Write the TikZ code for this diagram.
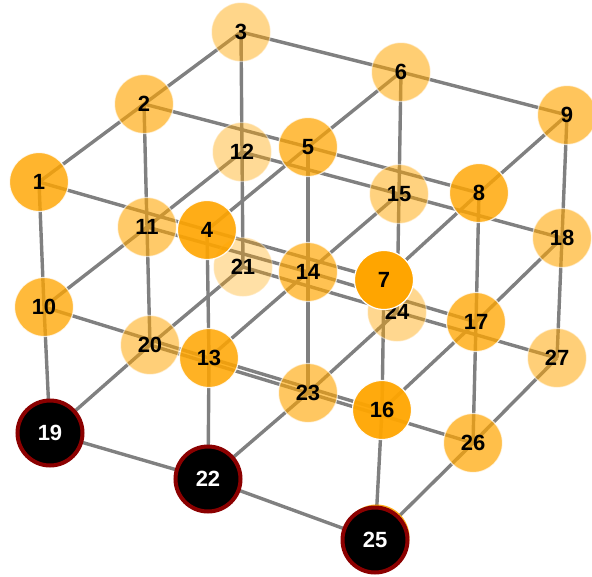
\documentclass[tikz,border=0pt]{standalone}
\usepackage{fontspec}
\setmainfont{Liberation Sans}
\pgfdeclarelayer{bg}
\pgfsetlayers{bg,main}
\definecolor{nodeorange}{HTML}{FFA500}
\definecolor{edgegray}{HTML}{808080}
\definecolor{ringred}{HTML}{8B0000}
\tikzset{
  ball/.style={circle, minimum size=59pt, inner sep=0pt, fill=nodeorange, draw=white, line width=1.2pt,
    fill opacity=#1, draw opacity=#1, text opacity=1, font=\fontsize{22}{22}\selectfont\bfseries},
  sink/.style={circle, minimum size=65pt, inner sep=0pt, fill=black, draw=ringred, line width=4pt,
    text=white, font=\fontsize{22}{22}\selectfont\bfseries},
  link/.style={draw=edgegray, line width=3.4pt}
}
\newcommand{\lbl}[1]{\raisebox{-3pt}{#1}}
\begin{document}
\begin{tikzpicture}[x=1pt,y=-1pt]
\useasboundingbox (0,0) rectangle (592,576);
% nodes, back to front
\node[ball=0.35] (n21) at (243,267) {\lbl{21}};
\node[ball=0.41] (n12) at (242,152) {\lbl{12}};
\node[ball=0.44] (n24) at (397,312) {\lbl{24}};
\node[ball=0.46] (n3)  at (241,32)  {\lbl{3}};
\node[ball=0.50] (n15) at (399,194) {\lbl{15}};
\node[ball=0.53] (n20) at (150,345) {\lbl{20}};
\node[ball=0.53] (n27) at (557,358) {\lbl{27}};
\node[ball=0.55] (n6)  at (401,72)  {\lbl{6}};
\node[ball=0.59] (n11) at (147,227) {\lbl{11}};
\node[ball=0.59] (n18) at (562,238) {\lbl{18}};
\node[ball=0.62] (n23) at (308,393) {\lbl{23}};
\node[ball=0.64] (n2)  at (144,104) {\lbl{2}};
\node[ball=0.64] (n9)  at (567,115) {\lbl{9}};
\node[ball=0.68] (n14) at (308,272) {\lbl{14}};
\node[sink]      (n19) at (50,433)  {\lbl{19}};
\node[ball=0.71] (n26) at (473,443) {\lbl{26}};
\node[ball=0.73] (n5)  at (308,147) {\lbl{5}};
\node[ball=0.77] (n10) at (44,307)  {\lbl{10}};
\node[ball=0.77] (n17) at (476,322) {\lbl{17}};
\node[sink]      (n22) at (208,479) {\lbl{22}};
\node[ball=0.82] (n1)  at (39,182)  {\lbl{1}};
\node[ball=0.82] (n8)  at (479,193) {\lbl{8}};
\node[ball=0.86] (n13) at (209,358) {\lbl{13}};
% orange disc peeking out behind node 25
\fill[nodeorange, fill opacity=0.9] (376.5,537.5) circle (33pt);
\node[sink]      (n25) at (375,540) {\lbl{25}};
\node[ball=0.91] (n4)  at (207,230) {\lbl{4}};
\node[ball=0.95] (n16) at (382,410) {\lbl{16}};
\node[ball=1]    (n7)  at (384,280) {\lbl{7}};
% connectors
\begin{pgfonlayer}{bg}
\foreach \a/\b in {1/2,2/3,4/5,5/6,7/8,8/9,10/11,11/12,13/14,14/15,16/17,17/18,19/20,20/21,22/23,23/24,25/26,26/27,
  1/4,4/7,2/5,5/8,3/6,6/9,10/13,13/16,11/14,14/17,12/15,15/18,19/22,22/25,20/23,23/26,21/24,24/27,
  1/10,2/11,3/12,4/13,5/14,6/15,7/16,8/17,9/18,10/19,11/20,12/21,13/22,14/23,15/24,16/25,17/26,18/27}
  \draw[link] (n\a.center) -- (n\b.center);
\end{pgfonlayer}
\end{tikzpicture}
\end{document}
